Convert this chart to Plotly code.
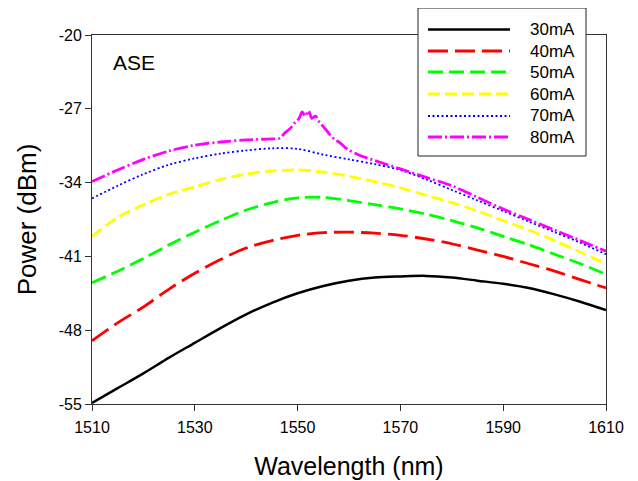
import plotly.graph_objects as go

# ---------------- data ----------------
wl = [1510, 1515, 1520, 1525, 1530, 1535, 1540, 1545, 1550, 1555, 1560,
      1565, 1570, 1575, 1580, 1585, 1590, 1595, 1600, 1605, 1610]

p30 = [-54.9, -53.5, -52.1, -50.6, -49.2, -47.8, -46.5, -45.4, -44.5, -43.8, -43.3,
       -43.0, -42.9, -42.85, -43.0, -43.3, -43.6, -44.0, -44.6, -45.3, -46.1]
p40 = [-49.0, -47.3, -45.8, -44.1, -42.6, -41.3, -40.2, -39.5, -39.0, -38.75, -38.7,
       -38.8, -39.0, -39.35, -39.8, -40.4, -41.0, -41.7, -42.4, -43.2, -44.0]
p50 = [-43.5, -42.4, -41.2, -39.9, -38.7, -37.6, -36.6, -35.9, -35.45, -35.4, -35.7,
       -36.1, -36.5, -37.0, -37.6, -38.3, -39.1, -39.9, -40.8, -41.7, -42.7]
p60 = [-39.1, -37.3, -36.1, -35.1, -34.4, -33.7, -33.2, -32.9, -32.8, -33.0, -33.4,
       -33.9, -34.5, -35.2, -35.9, -36.7, -37.6, -38.5, -39.5, -40.6, -41.7]
p70 = [-35.5, -34.3, -33.2, -32.3, -31.7, -31.25, -30.95, -30.75, -30.8, -31.35, -31.8,
       -32.25, -32.8, -33.7, -34.7, -35.7, -36.7, -37.7, -38.7, -39.7, -40.8]

wl80 = [1510, 1515, 1520, 1525, 1530, 1535, 1540, 1545, 1546.5, 1547.5, 1548.5,
        1549.5, 1550.3, 1550.9, 1551.5, 1552.1, 1552.8, 1553.5, 1554.3, 1555.2,
        1556.2, 1557.2, 1558.2, 1559.6, 1562, 1565, 1570, 1575, 1580, 1585,
        1590, 1595, 1600, 1605, 1610]
p80 = [-33.9, -32.8, -31.8, -31.0, -30.45, -30.15, -29.95, -29.85, -29.8, -29.3, -28.9,
       -28.3, -27.9, -27.3, -27.7, -27.2, -27.9, -27.7, -28.3, -28.8,
       -29.4, -29.9, -30.2, -30.8, -31.4, -31.9, -32.7, -33.5, -34.3, -35.4,
       -36.5, -37.5, -38.5, -39.5, -40.5]

series_names = ["30mA", "40mA", "50mA", "60mA", "70mA", "80mA"]
series_x = [wl, wl, wl, wl, wl, wl80]
series_y = [p30, p40, p50, p60, p70, p80]

x_ticks = [1510, 1530, 1550, 1570, 1590, 1610]
y_ticks = [-20, -27, -34, -41, -48, -55]
y_ticklabels = ["-20", "-27", "-34", "-41", "-48", "-55"]

# ---------------- styles ----------------
colors = ["#000000", "#FF0000", "#00FF00", "#FFFF00", "#0000FF", "#FF00FF"]
dashes = ["solid", "20px,7px", "15px,6px", "12px,5px", "2px,2.5px", "14px,3px,2px,3px"]
widths = [2.5, 2.8, 2.8, 2.8, 1.8, 2.8]

FONT = "Arial, 'Liberation Sans', sans-serif"

# page body has an 8px margin: figure is placed at (8, 8) in the window
OFF = 8
W, H = 638 - OFF, 481 - OFF

fig = go.Figure()
for name, xs, ys, c, d, w in zip(series_names, series_x, series_y, colors, dashes, widths):
    fig.add_trace(go.Scatter(
        x=xs, y=ys, name=name, mode="lines",
        line=dict(color=c, dash=d, width=w, shape="spline", smoothing=0.9),
        showlegend=False,
    ))

# plot area in window pixels
L, R, T, B = 92, 606, 35, 404
def px(xp):
    return (xp - L) / (R - L)
def py(yp):
    return (B - yp) / (B - T)

# ---------------- custom legend (box, samples, labels) ----------------
shapes = [dict(type="rect", xref="paper", yref="paper",
               x0=px(418), x1=px(586), y0=py(156), y1=py(8),
               line=dict(color="#222222", width=1), fillcolor="white", layer="above")]
annotations = []
row_y = [29.5, 51, 72, 94, 116, 137]
for name, c, d, w, ry in zip(series_names, colors, dashes, widths, row_y):
    shapes.append(dict(type="line", xref="paper", yref="paper",
                       x0=px(428), x1=px(510), y0=py(ry), y1=py(ry),
                       line=dict(color=c, dash=d, width=w), layer="above"))
    annotations.append(dict(text=name, xref="paper", yref="paper",
                            x=px(528), y=py(ry), xanchor="left", yanchor="middle",
                            showarrow=False, font=dict(family=FONT, size=17, color="black")))

annotations.append(dict(text="ASE", xref="paper", yref="paper",
                        x=px(111), y=py(63), xanchor="left", yanchor="middle",
                        showarrow=False, font=dict(family=FONT, size=21, color="black")))

axis_common = dict(
    showline=True, linecolor="#333333", linewidth=1, mirror=True,
    ticks="outside", ticklen=6, tickcolor="#333333", tickwidth=1,
    showgrid=False, zeroline=False, automargin=False,
    tickfont=dict(family=FONT, size=16, color="black"),
)

fig.update_layout(
    width=W, height=H,
    margin=dict(l=L - OFF, r=W - (R - OFF), t=T - OFF, b=H - (B - OFF), pad=0),
    paper_bgcolor="white", plot_bgcolor="white",
    shapes=shapes, annotations=annotations,
    xaxis=dict(range=[1510, 1610], tickvals=x_ticks, ticklabelstandoff=3,
               title=dict(text="Wavelength (nm)", font=dict(family=FONT, size=25, color="black"), standoff=22),
               **axis_common),
    yaxis=dict(range=[-55, -20], tickvals=y_ticks, ticktext=y_ticklabels,
               title=dict(text="Power (dBm)", font=dict(family=FONT, size=26, color="black"), standoff=14),
               **axis_common),
)

fig.write_html("out.html")
